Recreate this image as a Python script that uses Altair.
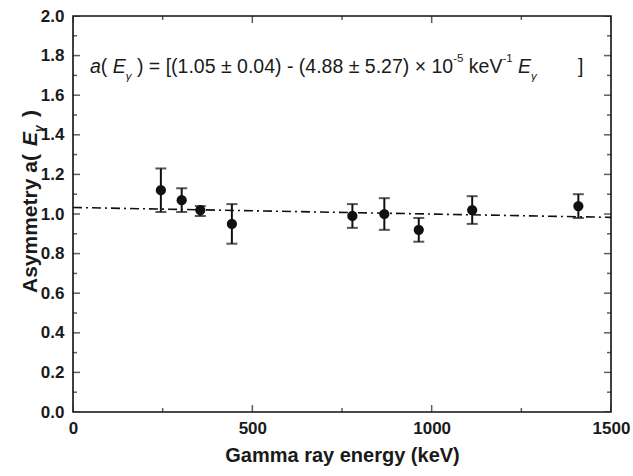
import altair as alt
import pandas as pd

# ---------------- data ----------------
energy_kev = [245, 303, 355, 443, 779, 868, 964, 1113, 1409]
asymmetry = [1.12, 1.07, 1.02, 0.95, 0.99, 1.00, 0.92, 1.02, 1.04]
err_low = [1.01, 1.01, 0.99, 0.85, 0.93, 0.92, 0.86, 0.95, 0.98]
err_high = [1.23, 1.13, 1.04, 1.05, 1.05, 1.08, 0.98, 1.09, 1.10]
fit_energy = [0, 1500]
fit_asym = [1.033, 0.983]

x_major_ticks = [0, 500, 1000, 1500]
x_minor_ticks = [250, 750, 1250]
y_major_ticks = [0.0, 0.2, 0.4, 0.6, 0.8, 1.0, 1.2, 1.4, 1.6, 1.8, 2.0]
y_minor_ticks = [0.1, 0.3, 0.5, 0.7, 0.9, 1.1, 1.3, 1.5, 1.7, 1.9]

x_title = "Gamma ray energy (keV)"
# (text, gap before it in spaces)
y_title_parts = [("Asymmetry a(", 0), ("E", 1.4), ("γ", 0), (")", 1.4)]
eq_parts = [("a", 0), ("(", 0), ("E", 1), ("γ", 0),
            (") = [(1.05 ± 0.04) - (4.88 ± 5.27) × 10", 1),
            ("-5", 0), ("keV", 1), ("-1", 0), ("E", 1), ("γ", 0)]
eq_close = "]"

# ---------------- layout ----------------
W, H = 538, 396
PAD = {"left": 73, "top": 16, "right": 22, "bottom": 64}
FONT = "Liberation Sans"
INK = "#1a1a1a"

xs = alt.Scale(domain=[0, 1500], nice=False, zero=False)
ys = alt.Scale(domain=[0, 2], nice=False, zero=False)

df = pd.DataFrame({"E": energy_kev, "a": asymmetry, "lo": err_low, "hi": err_high})
fit_df = pd.DataFrame({"E": fit_energy, "a": fit_asym})

x_axis = alt.Axis(values=x_major_ticks, format="d", tickSize=0, domain=False, grid=False,
                  labelFont=FONT, labelFontWeight="bold", labelFontSize=17,
                  labelColor=INK, labelPadding=8, labelFlush=False,
                  title=x_title, titleFont=FONT, titleFontWeight="bold",
                  titleFontSize=20, titleColor=INK, titlePadding=9)
y_axis = alt.Axis(values=y_major_ticks, format=".1f", tickSize=0, domain=False,
                  grid=False, labelFont=FONT, labelFontWeight="bold",
                  labelFontSize=17, labelColor=INK, labelPadding=9, title="")

def X(field):
    return alt.X(field, scale=xs, axis=x_axis, title=x_title)

def Y(field):
    return alt.Y(field, scale=ys, axis=y_axis, title="")

points = alt.Chart(df).mark_circle(size=105, color="#111111", opacity=1).encode(
    x=X("E:Q"), y=Y("a:Q"))
bars = alt.Chart(df).mark_rule(color="#111111", strokeWidth=2).encode(
    x=X("E:Q"), y=Y("lo:Q"), y2="hi:Q")
caps_lo = alt.Chart(df).mark_tick(color="#111111", orient="horizontal", size=11, thickness=2).encode(
    x=X("E:Q"), y=Y("lo:Q"))
caps_hi = alt.Chart(df).mark_tick(color="#111111", orient="horizontal", size=11, thickness=2).encode(
    x=X("E:Q"), y=Y("hi:Q"))

fit = alt.Chart(fit_df).mark_line(color="#111111", strokeWidth=1.6,
                                  strokeDash=[9, 4, 2, 4]).encode(
    x=X("E:Q"), y=Y("a:Q"))

# inward ticks on all four sides (clipped to the plot area)
def xticks(vals, length):
    d = pd.DataFrame({"x": vals * 2, "y": [0.0] * len(vals) + [2.0] * len(vals)})
    return alt.Chart(d).mark_tick(orient="vertical", size=2 * length, thickness=1.5,
                                  color=INK, clip=True).encode(x=X("x:Q"), y=Y("y:Q"))

def yticks(vals, length):
    d = pd.DataFrame({"y": vals * 2, "x": [0.0] * len(vals) + [1500.0] * len(vals)})
    return alt.Chart(d).mark_tick(orient="horizontal", size=2 * length, thickness=1.5,
                                  color=INK, clip=True).encode(x=X("x:Q"), y=Y("y:Q"))

tick_layers = [xticks(x_major_ticks, 7), xticks(x_minor_ticks, 4),
               yticks(y_major_ticks, 7), yticks(y_minor_ticks, 4)]

# ---------------- rich-text annotations ----------------
REG = {' ': 278, '(': 333, ')': 333, '[': 278, ']': 278, '=': 584, '.': 278,
       '-': 333, '±': 549, '×': 584, 'a': 556, 'E': 667, 'k': 500, 'e': 556,
       'V': 667, 'γ': 500}
BOLD = {'A': 722, 's': 556, 'y': 556, 'm': 889, 'e': 556, 't': 333, 'r': 389,
        ' ': 278, 'a': 556, '(': 333, ')': 333, 'E': 667, 'γ': 556}

def text_width(s, size, table):
    return sum(table.get(c, 556) for c in s) * size / 1000.0

def piece(text, x, y, size, style="normal", weight="normal", angle=0):
    kw = dict(align="left", baseline="alphabetic", font=FONT, fontSize=size,
              fontStyle=style, fontWeight=weight, color=INK)
    if angle:
        kw["angle"] = angle
    return alt.Chart(pd.DataFrame({"t": [text]})).mark_text(**kw).encode(
        x=alt.value(x), y=alt.value(y), text="t:N")

F, f = 19.5, 11.5
base_y = 57
eq_styles = [("italic", F, 0), ("normal", F, 0), ("italic", F, 0), ("italic", f, 7),
             ("normal", F, 0), ("normal", f, -11), ("normal", F, 0), ("normal", f, -11),
             ("italic", F, 0), ("italic", f, 7)]
eq_layers = []
cx = 17.0
for (txt, gap), (st, sz, dy) in zip(eq_parts, eq_styles):
    cx += gap * 0.278 * F
    eq_layers.append(piece(txt, cx, base_y, sz, style=st) if dy == 0
                     else piece(txt, cx, base_y + dy, sz, style=st))
    cx += text_width(txt, sz, REG)
eq_layers.append(piece(eq_close, 505, base_y, F))

# rotated y-axis title, running bottom to top
FY = 21
yt_styles = [("normal", FY, 0), ("italic", FY, 0), ("italic", 12, 6), ("normal", FY, 0)]
yt_layers = []
cy = 277.0
base_x = -36
for (txt, gap), (st, sz, dx) in zip(y_title_parts, yt_styles):
    cy -= gap * 0.278 * FY
    yt_layers.append(piece(txt, base_x + dx, cy, sz, style=st, weight="bold", angle=270))
    cy -= text_width(txt, sz, BOLD)

chart = alt.layer(points, fit, bars, caps_lo, caps_hi, *tick_layers, *eq_layers, *yt_layers).properties(
    width=W, height=H, padding=PAD, autosize=alt.AutoSizeParams(type="none"),
    background="white",
).configure_view(stroke="#111111", strokeWidth=1.6)

chart.save("out.html", embed_options={"renderer": "svg", "actions": False})
